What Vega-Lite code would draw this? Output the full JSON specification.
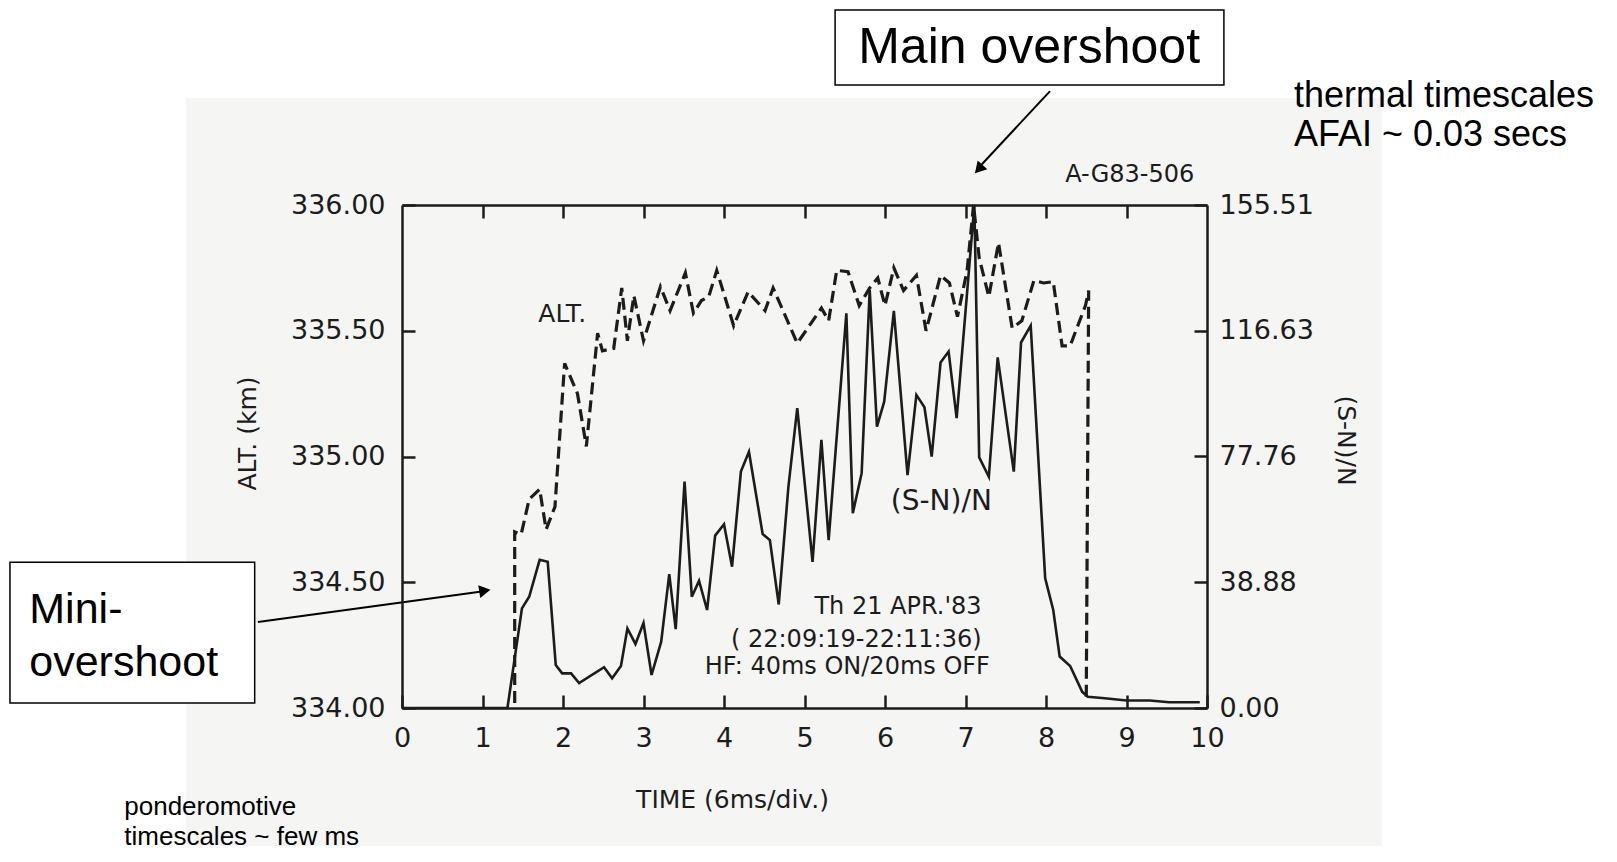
{
  "$schema": "https://vega.github.io/schema/vega-lite/v6.json",
  "width": 805,
  "height": 503,
  "autosize": "none",
  "padding": {"left": 402, "top": 205, "right": 410, "bottom": 154},
  "background": "#ffffff",
  "config": {
    "view": {"stroke": null},
    "axis": {"grid": false, "domainColor": "#1c1c1c", "domainWidth": 2.5, "tickColor": "#1c1c1c", "tickWidth": 2.5, "tickSize": -13, "labelColor": "#1c1c1c", "labelFont": "DejaVu Sans", "labelFontSize": 27, "titleFont": "DejaVu Sans", "titleFontWeight": "normal", "titleColor": "#1c1c1c", "titleFontSize": 25, "labelFlush": false, "labelOverlap": false}
  },
  "datasets": {
    "bg": [{"x": -2.68, "x2": 12.17, "y": 336.425, "y2": 333.451}],
    "boxes": [{"x": 5.38, "x2": 10.21, "y": 336.775, "y2": 336.477}, {"x": -4.87, "x2": -1.83, "y": 334.58, "y2": 334.02}],
    "alt": [{"t":1.40,"alt":334.02},{"t":1.40,"alt":334.70},{"t":1.48,"alt":334.69},{"t":1.58,"alt":334.83},{"t":1.71,"alt":334.87},{"t":1.79,"alt":334.71},{"t":1.90,"alt":334.80},{"t":2.02,"alt":335.37},{"t":2.18,"alt":335.25},{"t":2.29,"alt":335.04},{"t":2.43,"alt":335.49},{"t":2.49,"alt":335.42},{"t":2.63,"alt":335.43},{"t":2.73,"alt":335.67},{"t":2.80,"alt":335.46},{"t":2.88,"alt":335.64},{"t":3.00,"alt":335.46},{"t":3.21,"alt":335.675},{"t":3.33,"alt":335.58},{"t":3.52,"alt":335.73},{"t":3.62,"alt":335.57},{"t":3.72,"alt":335.62},{"t":3.81,"alt":335.635},{"t":3.91,"alt":335.74},{"t":4.12,"alt":335.52},{"t":4.30,"alt":335.655},{"t":4.51,"alt":335.58},{"t":4.61,"alt":335.67},{"t":4.91,"alt":335.45},{"t":5.21,"alt":335.59},{"t":5.30,"alt":335.54},{"t":5.40,"alt":335.74},{"t":5.54,"alt":335.735},{"t":5.68,"alt":335.60},{"t":5.81,"alt":335.67},{"t":5.91,"alt":335.71},{"t":6.00,"alt":335.60},{"t":6.11,"alt":335.75},{"t":6.23,"alt":335.66},{"t":6.39,"alt":335.72},{"t":6.51,"alt":335.50},{"t":6.69,"alt":335.72},{"t":6.80,"alt":335.69},{"t":6.90,"alt":335.556},{"t":7.02,"alt":335.74},{"t":7.10,"alt":336.00},{"t":7.17,"alt":335.79},{"t":7.29,"alt":335.635},{"t":7.41,"alt":335.85},{"t":7.58,"alt":335.51},{"t":7.70,"alt":335.54},{"t":7.85,"alt":335.70},{"t":7.97,"alt":335.69},{"t":8.09,"alt":335.695},{"t":8.20,"alt":335.44},{"t":8.30,"alt":335.44},{"t":8.49,"alt":335.60},{"t":8.53,"alt":335.66},{"t":8.50,"alt":334.03}],
    "sn": [{"t":0,"sn":0},{"t":1.31,"sn":0},{"t":1.49,"sn":30.8},{"t":1.58,"sn":34.4},{"t":1.71,"sn":45.8},{"t":1.81,"sn":45.2},{"t":1.91,"sn":13.3},{"t":1.99,"sn":10.7},{"t":2.10,"sn":10.7},{"t":2.20,"sn":7.7},{"t":2.51,"sn":12.6},{"t":2.61,"sn":9.2},{"t":2.72,"sn":13.0},{"t":2.80,"sn":24.6},{"t":2.90,"sn":19.8},{"t":3.00,"sn":26.3},{"t":3.10,"sn":10.2},{"t":3.22,"sn":20.5},{"t":3.32,"sn":41.4},{"t":3.40,"sn":24.4},{"t":3.51,"sn":70.0},{"t":3.60,"sn":34.4},{"t":3.69,"sn":39.3},{"t":3.79,"sn":30.3},{"t":3.89,"sn":53.3},{"t":4.00,"sn":56.8},{"t":4.10,"sn":43.7},{"t":4.21,"sn":73.1},{"t":4.31,"sn":79.2},{"t":4.48,"sn":53.8},{"t":4.57,"sn":51.9},{"t":4.68,"sn":32.0},{"t":4.80,"sn":68.4},{"t":4.91,"sn":92.7},{"t":5.10,"sn":45.2},{"t":5.21,"sn":82.9},{"t":5.30,"sn":51.9},{"t":5.52,"sn":122.0},{"t":5.60,"sn":60.2},{"t":5.71,"sn":72.6},{"t":5.81,"sn":129.2},{"t":5.90,"sn":87.0},{"t":5.99,"sn":94.7},{"t":6.11,"sn":122.8},{"t":6.28,"sn":72.0},{"t":6.39,"sn":96.8},{"t":6.49,"sn":93.0},{"t":6.58,"sn":77.7},{"t":6.69,"sn":106.8},{"t":6.79,"sn":110.2},{"t":6.89,"sn":89.6},{"t":7.11,"sn":155.5},{"t":7.17,"sn":77.5},{"t":7.29,"sn":71.5},{"t":7.40,"sn":108.4},{"t":7.60,"sn":73.1},{"t":7.69,"sn":113.0},{"t":7.81,"sn":118.2},{"t":7.99,"sn":40.1},{"t":8.09,"sn":30.3},{"t":8.17,"sn":15.9},{"t":8.30,"sn":13.0},{"t":8.45,"sn":5.0},{"t":8.52,"sn":3.5},{"t":8.73,"sn":3.0},{"t":9.00,"sn":2.3},{"t":9.29,"sn":2.3},{"t":9.53,"sn":1.8},{"t":9.91,"sn":1.8}],
    "scanAlt": [{"x": 1.99, "y": 335.567, "label": "ALT."}],
    "scanSN": [{"x": 6.70, "y": 334.82, "label": "(S-N)/N"}],
    "scanCode": [{"x": 9.04, "y": 336.119, "label": "A-G83-506"}],
    "scanRight": [{"x": 7.20, "y": 334.40, "label": "Th 21 APR.'83"}, {"x": 7.20, "y": 334.27, "label": "( 22:09:19-22:11:36)"}],
    "scanLeft": [{"x": 3.76, "y": 334.163, "label": "HF: 40ms ON/20ms OFF"}],
    "mainLabel": [{"x": 7.79, "y": 336.624, "label": "Main overshoot"}],
    "miniLabel": [{"x": -4.63, "y": 334.39, "label": "Mini-"}, {"x": -4.63, "y": 334.18, "label": "overshoot"}],
    "thermal": [{"x": 11.08, "y": 336.433, "label": "thermal timescales"}, {"x": 11.08, "y": 336.28, "label": "AFAI ~ 0.03 secs"}],
    "ponder": [{"x": -3.45, "y": 333.606, "label": "ponderomotive"}, {"x": -3.45, "y": 333.487, "label": "timescales ~ few ms"}],
    "arrows": [{"x": -1.79, "y": 334.342, "x2": 1.06, "y2": 334.466}, {"x": 8.05, "y": 336.453, "x2": 7.14, "y2": 336.14}],
    "headMini": [{"x": 1.006, "y": 334.465}],
    "headMain": [{"x": 7.18, "y": 336.148}]
  },
  "resolve": {"scale": {"y": "independent"}, "axis": {"x": "independent", "y": "independent"}},
  "layer": [
    {
      "data": {"name": "bg"},
      "mark": {"type": "rect", "fill": "#f5f5f4"},
      "encoding": {
        "x": {"field": "x", "type": "quantitative", "scale": {"domain": [0, 10], "nice": false, "zero": false}, "axis": null},
        "x2": {"field": "x2"},
        "y": {"field": "y", "type": "quantitative", "scale": {"domain": [334, 336], "nice": false, "zero": false}, "axis": null},
        "y2": {"field": "y2"}
      }
    },
    {
      "data": {"name": "boxes"},
      "mark": {"type": "rect", "fill": "#ffffff", "stroke": "#000000", "strokeWidth": 1.5},
      "encoding": {
        "x": {"field": "x", "type": "quantitative", "scale": {"domain": [0, 10], "nice": false, "zero": false}, "axis": null},
        "x2": {"field": "x2"},
        "y": {"field": "y", "type": "quantitative", "scale": {"domain": [334, 336], "nice": false, "zero": false}, "axis": null},
        "y2": {"field": "y2"}
      }
    },
    {
      "data": {"name": "alt"},
      "mark": {"type": "line", "color": "#1c1c1c", "strokeWidth": 3.2, "strokeDash": [12, 6]},
      "encoding": {
        "x": {"field": "t", "type": "quantitative", "scale": {"domain": [0, 10], "nice": false, "zero": false},
              "axis": {"zindex": 2, "orient": "bottom", "values": [0, 1, 2, 3, 4, 5, 6, 7, 8, 9, 10], "format": "d", "title": "TIME (6ms/div.)", "labelPadding": 30, "titleX": 330, "titleY": 91, "titleBaseline": "middle", "titleAlign": "center"}},
        "y": {"field": "alt", "type": "quantitative", "scale": {"domain": [334, 336], "nice": false, "zero": false},
              "axis": {"zindex": 2, "orient": "left", "values": [334, 334.5, 335, 335.5, 336], "format": ".2f", "title": "ALT. (km)", "labelPadding": 30, "titleX": -155, "titleY": 228, "titleBaseline": "middle", "titleAlign": "center", "titleAngle": -90}},
        "order": {"value": null}
      }
    },
    {
      "data": {"name": "sn"},
      "mark": {"type": "line", "color": "#1c1c1c", "strokeWidth": 2.6},
      "encoding": {
        "x": {"field": "t", "type": "quantitative", "scale": {"domain": [0, 10], "nice": false, "zero": false},
              "axis": {"zindex": 2, "orient": "top", "values": [1, 2, 3, 4, 5, 6, 7, 8, 9], "labels": false, "title": null}},
        "y": {"field": "sn", "type": "quantitative", "scale": {"domain": [0, 155.51], "nice": false, "zero": false},
              "axis": {"zindex": 2, "orient": "right", "values": [0, 38.88, 77.76, 116.63, 155.51], "format": ".2f", "title": "(S-N)/N", "labelPadding": 25, "titleX": 138, "titleY": 235, "titleBaseline": "middle", "titleAlign": "center", "titleAngle": 90}},
        "order": {"value": null}
      }
    },
    {
      "data": {"name": "scanAlt"},
      "mark": {"type": "text", "font": "DejaVu Sans", "fontSize": 25, "align": "center", "baseline": "middle", "color": "#1c1c1c"},
      "encoding": {
        "x": {"field": "x", "type": "quantitative", "scale": {"domain": [0, 10], "nice": false, "zero": false}, "axis": null},
        "y": {"field": "y", "type": "quantitative", "scale": {"domain": [334, 336], "nice": false, "zero": false}, "axis": null},
        "text": {"field": "label"}
      }
    },
    {
      "data": {"name": "scanSN"},
      "mark": {"type": "text", "font": "DejaVu Sans", "fontSize": 28, "align": "center", "baseline": "middle", "color": "#1c1c1c"},
      "encoding": {
        "x": {"field": "x", "type": "quantitative", "scale": {"domain": [0, 10], "nice": false, "zero": false}, "axis": null},
        "y": {"field": "y", "type": "quantitative", "scale": {"domain": [334, 336], "nice": false, "zero": false}, "axis": null},
        "text": {"field": "label"}
      }
    },
    {
      "data": {"name": "scanCode"},
      "mark": {"type": "text", "font": "DejaVu Sans", "fontSize": 24, "align": "center", "baseline": "middle", "color": "#1c1c1c"},
      "encoding": {
        "x": {"field": "x", "type": "quantitative", "scale": {"domain": [0, 10], "nice": false, "zero": false}, "axis": null},
        "y": {"field": "y", "type": "quantitative", "scale": {"domain": [334, 336], "nice": false, "zero": false}, "axis": null},
        "text": {"field": "label"}
      }
    },
    {
      "data": {"name": "scanRight"},
      "mark": {"type": "text", "font": "DejaVu Sans", "fontSize": 24, "align": "right", "baseline": "middle", "color": "#1c1c1c"},
      "encoding": {
        "x": {"field": "x", "type": "quantitative", "scale": {"domain": [0, 10], "nice": false, "zero": false}, "axis": null},
        "y": {"field": "y", "type": "quantitative", "scale": {"domain": [334, 336], "nice": false, "zero": false}, "axis": null},
        "text": {"field": "label"}
      }
    },
    {
      "data": {"name": "scanLeft"},
      "mark": {"type": "text", "font": "DejaVu Sans", "fontSize": 24, "align": "left", "baseline": "middle", "color": "#1c1c1c"},
      "encoding": {
        "x": {"field": "x", "type": "quantitative", "scale": {"domain": [0, 10], "nice": false, "zero": false}, "axis": null},
        "y": {"field": "y", "type": "quantitative", "scale": {"domain": [334, 336], "nice": false, "zero": false}, "axis": null},
        "text": {"field": "label"}
      }
    },
    {
      "data": {"name": "mainLabel"},
      "mark": {"type": "text", "font": "Liberation Sans", "fontSize": 50, "align": "center", "baseline": "middle", "color": "#000000"},
      "encoding": {
        "x": {"field": "x", "type": "quantitative", "scale": {"domain": [0, 10], "nice": false, "zero": false}, "axis": null},
        "y": {"field": "y", "type": "quantitative", "scale": {"domain": [334, 336], "nice": false, "zero": false}, "axis": null},
        "text": {"field": "label"}
      }
    },
    {
      "data": {"name": "miniLabel"},
      "mark": {"type": "text", "font": "Liberation Sans", "fontSize": 43, "align": "left", "baseline": "middle", "color": "#000000"},
      "encoding": {
        "x": {"field": "x", "type": "quantitative", "scale": {"domain": [0, 10], "nice": false, "zero": false}, "axis": null},
        "y": {"field": "y", "type": "quantitative", "scale": {"domain": [334, 336], "nice": false, "zero": false}, "axis": null},
        "text": {"field": "label"}
      }
    },
    {
      "data": {"name": "thermal"},
      "mark": {"type": "text", "font": "Liberation Sans", "fontSize": 36, "align": "left", "baseline": "middle", "color": "#000000"},
      "encoding": {
        "x": {"field": "x", "type": "quantitative", "scale": {"domain": [0, 10], "nice": false, "zero": false}, "axis": null},
        "y": {"field": "y", "type": "quantitative", "scale": {"domain": [334, 336], "nice": false, "zero": false}, "axis": null},
        "text": {"field": "label"}
      }
    },
    {
      "data": {"name": "ponder"},
      "mark": {"type": "text", "font": "Liberation Sans", "fontSize": 26, "align": "left", "baseline": "middle", "color": "#000000"},
      "encoding": {
        "x": {"field": "x", "type": "quantitative", "scale": {"domain": [0, 10], "nice": false, "zero": false}, "axis": null},
        "y": {"field": "y", "type": "quantitative", "scale": {"domain": [334, 336], "nice": false, "zero": false}, "axis": null},
        "text": {"field": "label"}
      }
    },
    {
      "data": {"name": "arrows"},
      "mark": {"type": "rule", "color": "#000000", "strokeWidth": 2},
      "encoding": {
        "x": {"field": "x", "type": "quantitative", "scale": {"domain": [0, 10], "nice": false, "zero": false}, "axis": null},
        "x2": {"field": "x2"},
        "y": {"field": "y", "type": "quantitative", "scale": {"domain": [334, 336], "nice": false, "zero": false}, "axis": null},
        "y2": {"field": "y2"}
      }
    },
    {
      "data": {"name": "headMini"},
      "mark": {"type": "point", "shape": "triangle", "filled": true, "color": "#000000", "opacity": 1, "size": 170, "angle": 81},
      "encoding": {
        "x": {"field": "x", "type": "quantitative", "scale": {"domain": [0, 10], "nice": false, "zero": false}, "axis": null},
        "y": {"field": "y", "type": "quantitative", "scale": {"domain": [334, 336], "nice": false, "zero": false}, "axis": null}
      }
    },
    {
      "data": {"name": "headMain"},
      "mark": {"type": "point", "shape": "triangle", "filled": true, "color": "#000000", "opacity": 1, "size": 170, "angle": 222},
      "encoding": {
        "x": {"field": "x", "type": "quantitative", "scale": {"domain": [0, 10], "nice": false, "zero": false}, "axis": null},
        "y": {"field": "y", "type": "quantitative", "scale": {"domain": [334, 336], "nice": false, "zero": false}, "axis": null}
      }
    }
  ]
}
